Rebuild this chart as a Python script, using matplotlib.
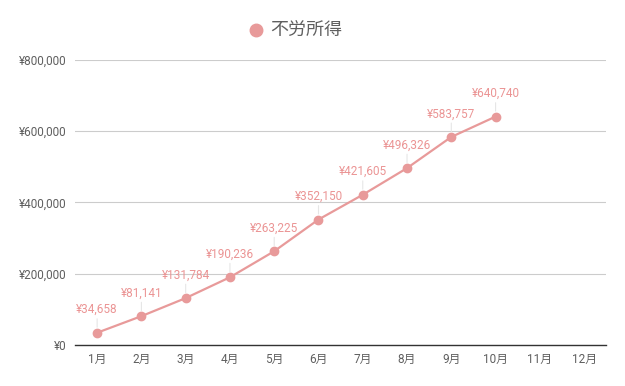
import numpy as np
import matplotlib.pyplot as plt
from matplotlib.lines import Line2D

plt.rcParams['font.family'] = ['Roboto', 'Noto Sans CJK JP', 'DejaVu Sans']

months = ['1月', '2月', '3月', '4月', '5月', '6月', '7月', '8月', '9月', '10月', '11月', '12月']
values = [34658, 81141, 131784, 190236, 263225, 352150, 421605, 496326, 583757, 640740]
yticks = [0, 200000, 400000, 600000, 800000]
series_name = '不労所得'

col = '#e89a9a'
txt = '#eb9494'
gray = '#5f5f5f'

fig = plt.figure(figsize=(6.25, 3.86), dpi=100)
ax = fig.add_axes([0.12, 0.106, 0.85, 0.739])

x = np.arange(len(values))
ax.plot(x, values, color=col, lw=1.6, marker='o', ms=6, zorder=3)
for xi, v in zip(x, values):
    ax.annotate('¥{:,}'.format(v), xy=(xi, v), xytext=(0, 12), textcoords='offset points',
                ha='center', va='bottom', fontsize=8.5, color=txt,
                arrowprops=dict(arrowstyle='-', color='#e6e6e6', lw=0.8, shrinkA=0, shrinkB=4))

ax.set_xlim(-0.5, len(months) - 0.5)
ax.set_ylim(0, 800000)
ax.set_xticks(range(len(months)))
ax.set_xticklabels(months)
ax.set_yticks(yticks)
ax.set_yticklabels(['¥{:,}'.format(t) for t in yticks])
ax.tick_params(length=0, labelsize=8.5, labelcolor=gray, pad=6)
ax.grid(axis='y', color='#cccccc', lw=0.8)
ax.set_axisbelow(True)
for s in ['top', 'right', 'left']:
    ax.spines[s].set_visible(False)
ax.spines['bottom'].set_color('#333333')
ax.spines['bottom'].set_linewidth(1)

h = Line2D([], [], color=col, marker='o', ls='none', ms=9)
fig.legend([h], [series_name], loc='center', bbox_to_anchor=(0.47, 0.92), frameon=False,
           prop={'family': 'Noto Sans CJK JP', 'size': 13}, labelcolor=gray,
           handletextpad=0.2, handlelength=1.2)

fig.savefig('out.png', dpi=100)
